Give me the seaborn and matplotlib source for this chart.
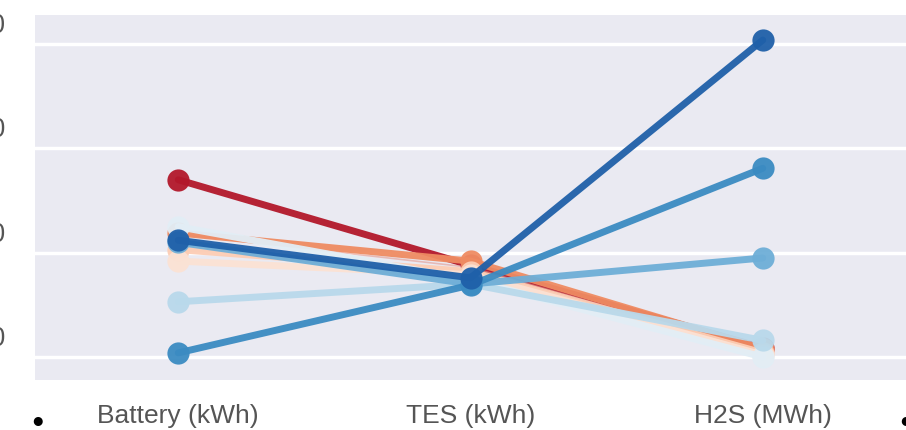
import matplotlib
matplotlib.use('Agg')
import matplotlib.pyplot as plt
import matplotlib.transforms as mtransforms
import seaborn as sns
import pandas as pd

# Storage categories on the x axis
categories = ['Battery (kWh)', 'TES (kWh)', 'H2S (MWh)']
tick_values = [10, 20, 30, 40]
tick_labels = ['10', '20', '30', '40']

# One line per scenario: values at Battery, TES, H2S (drawn in this order)
series = {
    's1': [27.0, 18.8, 10.9],
    's2b': [21.8, 18.6, 10.6],
    's2': [21.9, 19.2, 10.8],
    's3': [20.3, 18.2, 10.4],
    's4': [19.2, 17.9, 10.2],
    's5': [22.5, 17.4, 10.0],
    's6': [15.3, 17.0, 11.6],
    's7': [21.0, 17.0, 19.5],
    's8': [10.4, 16.9, 28.1],
    's9': [21.2, 17.6, 40.4],
}
colors = {
    's5': '#e2eef6', 's4': '#fbe2d4', 's3': '#fccdb4', 's6': '#b9d9eb',
    's2b': '#e3998f', 's2': '#ef8b62', 's1': '#b2182b', 's7': '#6eaed7',
    's8': '#3b8bc2', 's9': '#1f60a9',
}
widths = {'s2b': 1.2}
show_marker = {'s2b': False}

rows = []
for name, vals in series.items():
    for cat, v in zip(categories, vals):
        rows.append({'storage': cat, 'value': v, 'series': name})
df = pd.DataFrame(rows)

sns.set_theme(style='darkgrid')
plt.rcParams['font.family'] = ['Liberation Sans', 'DejaVu Sans']

fig = plt.figure(figsize=(9.06, 4.30), dpi=100)
ax = fig.add_axes([35 / 906, 50 / 430, 1 - 35 / 906, 365 / 430])

for name in series:
    sub = df[df['series'] == name]
    sns.lineplot(data=sub, x='storage', y='value', ax=ax, sort=False,
                 color=colors[name], linewidth=widths.get(name, 5),
                 marker='o' if show_marker.get(name, True) else None,
                 markersize=16, markeredgewidth=0,
                 alpha=0.95 if name != 's2b' else 0.6)

ax.set_xlim(-0.49, 2.49)
ax.set_ylim(7.8, 42.8)
ax.set_yticks(tick_values)
ax.set_yticklabels(tick_labels)
ax.xaxis.grid(False)
ax.yaxis.grid(True, color='white', linewidth=2.5)
ax.set_xlabel('')
ax.set_ylabel('')
ax.tick_params(axis='y', labelsize=19.5, pad=15, colors='#555555')
ax.tick_params(axis='x', labelsize=19, pad=11, colors='#555555')
for s in ax.spines.values():
    s.set_visible(False)

# y labels sit a little above their gridlines in the reference
shift = mtransforms.ScaledTranslation(0, 0.21, fig.dpi_scale_trans)
for lab in ax.get_yticklabels():
    lab.set_transform(lab.get_transform() + shift)

# cropped dots at bottom corners
fig.text(38 / 906, 8 / 430, '\u25cf', fontsize=15, ha='center', va='center', color='black')
fig.text(906 / 906, 8 / 430, '\u25cf', fontsize=15, ha='center', va='center', color='black')

fig.savefig('out.png', dpi=100)
